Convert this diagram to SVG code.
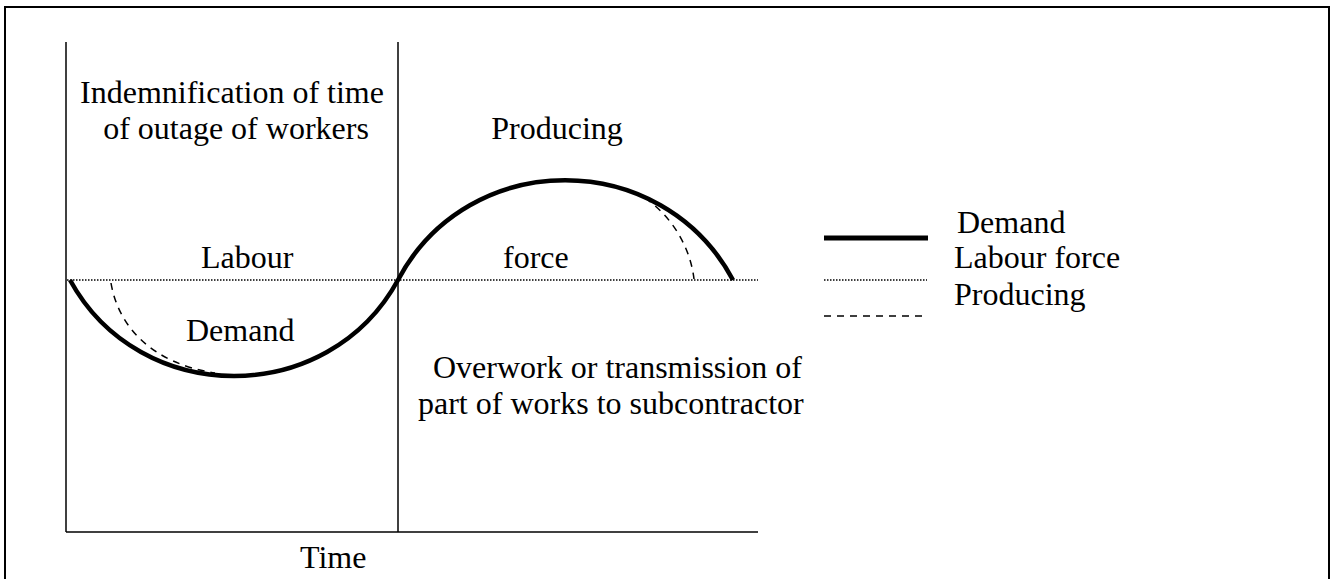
<svg xmlns="http://www.w3.org/2000/svg" width="1333" height="579" viewBox="0 0 1333 579">
<style>
text{font-family:"Liberation Serif","Times New Roman",serif;font-size:32px;fill:#000}
.ax{stroke:#000;stroke-width:1.5;fill:none}
.dem{stroke:#000;stroke-width:4.5;fill:none;stroke-linecap:butt}
.lab{stroke:#000;stroke-width:1.5;stroke-dasharray:1.5 1.5;fill:none}
.pro{stroke:#000;stroke-width:1.5;stroke-dasharray:7 6;fill:none}
</style>
<rect x="5" y="7" width="1324" height="600" fill="#fff" stroke="#000" stroke-width="2"/>
<g id="axes">
<line class="ax" x1="66" y1="42" x2="66" y2="532"/>
<line class="ax" x1="398" y1="42" x2="398" y2="532"/>
<line class="ax" x1="66" y1="532" x2="758" y2="532"/>
</g>
<g id="connectors">
<line class="lab" x1="67" y1="280" x2="758" y2="280"/>
<path class="dem" d="M70,280 C140,408 328,408 398,280 C468,147 662,147 733,280"/>
<path class="pro" d="M111,283 C118,325 150,363 215,373"/>
<path class="pro" d="M645,198 C670,215 690,245 694,279"/>
</g>
<g id="labels">
<text x="232" y="103" text-anchor="middle">Indemnification of time</text>
<text x="236" y="139" text-anchor="middle">of outage of workers</text>
<text x="557" y="139" text-anchor="middle">Producing</text>
<text x="201" y="268">Labour</text>
<text x="503" y="268">force</text>
<text x="186" y="341">Demand</text>
<text x="433" y="378">Overwork or transmission of</text>
<text x="418" y="414">part of works to subcontractor</text>
<text x="300" y="568">Time</text>
</g>
<g id="legend">
<line x1="824" y1="238" x2="928" y2="238" stroke="#000" stroke-width="5"/>
<line class="lab" x1="824" y1="280" x2="927" y2="280"/>
<line class="pro" x1="824" y1="316" x2="928" y2="316"/>
<text x="957" y="233">Demand</text>
<text x="954" y="268">Labour force</text>
<text x="954" y="305">Producing</text>
</g>
</svg>
